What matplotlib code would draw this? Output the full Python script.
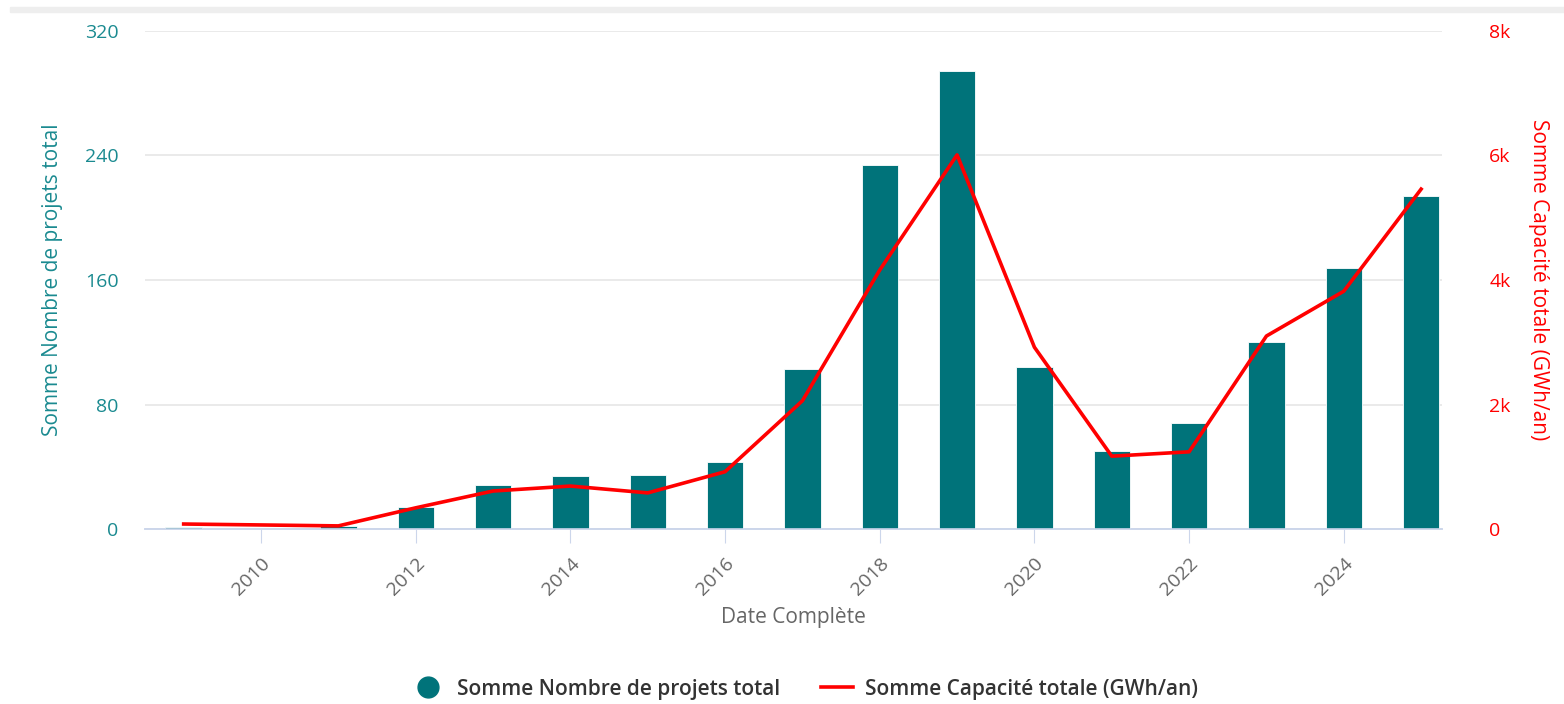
import matplotlib.pyplot as plt
from matplotlib.lines import Line2D
from matplotlib.patches import Rectangle

plt.rcParams['font.family'] = ['Open Sans', 'DejaVu Sans']

years = [2009, 2011, 2012, 2013, 2014, 2015, 2016, 2017, 2018, 2019, 2020, 2021, 2022, 2023, 2024, 2025]
nbProjets = [1, 2, 14, 28, 34, 35, 43, 103, 234, 294, 104, 50, 68, 120, 168, 214]
capacite = [80, 50, 340, 610, 690, 580, 920, 2060, 4160, 6010, 2920, 1170, 1240, 3100, 3820, 5460]

teal = "#00737a"
red = "#ff0000"

fig = plt.figure(figsize=(15.64, 7.04), dpi=100)
fig.patches.append(Rectangle((10 / 1564, 1 - 12 / 704), 1, 5 / 704, transform=fig.transFigure,
                             color="#eeeeee", zorder=0))
ax = fig.add_axes([145 / 1564, 1 - 529 / 704, (1442 - 145) / 1564, (529 - 31) / 704])
ax2 = ax.twinx()

ax.bar(years, nbProjets, width=0.47, color=teal, edgecolor="#ffffff", linewidth=0.6, zorder=3)
ax2.plot(years, capacite, color=red, linewidth=2.6, zorder=4)

ax.set_xlim(2008.5, 2025.27)
ax.set_ylim(0, 320)
ax2.set_ylim(0, 8000)
ax.set_yticks([0, 80, 160, 240, 320])
ax2.set_yticks([0, 2000, 4000, 6000, 8000])
ax2.set_yticklabels(["0", "2k", "4k", "6k", "8k"])
ax.set_xticks(range(2010, 2026, 2))
ax.set_xticklabels([str(y) for y in range(2010, 2026, 2)], rotation=45, ha="right",
                   rotation_mode="anchor", color="#666666", fontsize=14)

ax.grid(axis="y", color="#e6e6e6", linewidth=1.2, zorder=0)
ax.set_axisbelow(True)
for a in (ax, ax2):
    for s in ("top", "left", "right"):
        a.spines[s].set_visible(False)
    a.spines["bottom"].set_color("#ccd6eb")
    a.spines["bottom"].set_linewidth(1.2)
ax.tick_params(axis="x", length=10, color="#ccd6eb", pad=8)
ax.tick_params(axis="y", length=0, labelcolor="#1a8a90", labelsize=14, pad=19)
ax2.tick_params(axis="y", length=0, labelcolor=red, labelsize=14, pad=34)
for lbl in ax2.get_yticklabels():
    lbl.set_ha("left")

ax.set_xlabel("Date Complète", color="#666666", fontsize=15, labelpad=6)
ax.set_ylabel("Somme Nombre de projets total", color="#1a8a90", fontsize=15, labelpad=16)
ax2.set_ylabel("Somme Capacité totale (GWh/an)", color=red, fontsize=15, rotation=270, labelpad=28)

handles = [Line2D([], [], marker="o", color="none", markerfacecolor=teal, markeredgecolor=teal, markersize=15),
           Line2D([], [], color=red, linewidth=2.6)]
fig.legend(handles, ["Somme Nombre de projets total", "Somme Capacité totale (GWh/an)"],
           loc="center", bbox_to_anchor=(0.515, 1 - 689 / 704), ncol=2, frameon=False,
           prop={"size": 15, "weight": "semibold"}, handlelength=1.5, handletextpad=0.6,
           columnspacing=2.0, labelcolor="#333333")

plt.savefig("out.png", dpi=100)
